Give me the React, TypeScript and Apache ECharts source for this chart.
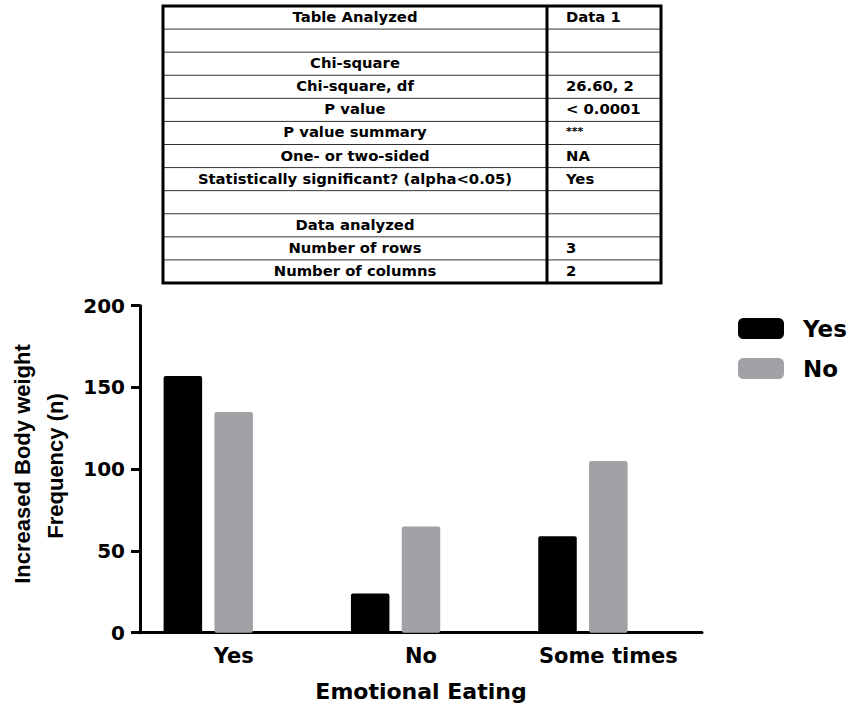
import React, { useEffect, useRef } from "react";
import * as echarts from "echarts";

const categories = ["Yes", "No", "Some times"];
const seriesYes = [157, 24, 59];
const seriesNo = [135, 65, 105];
const yTicks = { min: 0, max: 200, interval: 50 };

const tableLabels = [
  "Table Analyzed",
  "",
  "Chi-square",
  "Chi-square, df",
  "P value",
  "P value summary",
  "One- or two-sided",
  "Statistically significant? (alpha<0.05)",
  "",
  "Data analyzed",
  "Number of rows",
  "Number of columns",
];
const tableValues = ["Data 1", "", "", "26.60, 2", "< 0.0001", "***", "NA", "Yes", "", "", "3", "2"];

const HFONT = "DejaVu Sans";
const VFONT = "Liberation Sans";

export default function App() {
  const ref = useRef<HTMLDivElement>(null);
  useEffect(() => {
    if (!ref.current) return;
    const chart = echarts.init(ref.current, undefined, { renderer: "svg" });

    const tL = 163, tR = 661, tT = 6, tB = 283, tDiv = 547;
    const rowH = (tB - tT) / tableLabels.length;
    const graphics: any[] = [];
    for (let i = 1; i < tableLabels.length; i++) {
      const y = tT + rowH * i;
      graphics.push({
        type: "line",
        shape: { x1: tL, y1: y, x2: tR, y2: y },
        style: { stroke: "#333", lineWidth: 1 },
      });
    }
    graphics.push({
      type: "rect",
      shape: { x: tL, y: tT, width: tR - tL, height: tB - tT },
      style: { fill: "none", stroke: "#000", lineWidth: 3 },
    });
    graphics.push({
      type: "line",
      shape: { x1: tDiv, y1: tT, x2: tDiv, y2: tB },
      style: { stroke: "#000", lineWidth: 3 },
    });
    tableLabels.forEach((t, i) => {
      const cy = tT + rowH * (i + 0.5) - 1;
      if (t)
        graphics.push({
          type: "text",
          x: (tL + tDiv) / 2,
          y: cy,
          style: {
            text: t,
            fontFamily: HFONT,
            fontWeight: "bold",
            fontSize: 14.8,
            fill: "#000",
            align: "center",
            verticalAlign: "middle",
          },
        });
      const v = tableValues[i];
      if (v)
        graphics.push({
          type: "text",
          x: 566,
          y: cy,
          style: {
            text: v,
            fontFamily: HFONT,
            fontWeight: "bold",
            fontSize: v === "***" ? 11 : 14.8,
            fill: "#000",
            align: "left",
            verticalAlign: "middle",
          },
        });
    });
    // Y axis title (two lines, rotated)
    graphics.push({
      type: "text",
      x: 22.5,
      y: 464,
      rotation: Math.PI / 2,
      style: {
        text: "Increased Body weight",
        fontFamily: VFONT,
        fontWeight: "bold",
        fontSize: 22,
        fill: "#000",
        align: "center",
        verticalAlign: "middle",
      },
    });
    graphics.push({
      type: "text",
      x: 55.8,
      y: 466,
      rotation: Math.PI / 2,
      style: {
        text: "Frequency (n)",
        fontFamily: VFONT,
        fontWeight: "bold",
        fontSize: 22,
        fill: "#000",
        align: "center",
        verticalAlign: "middle",
      },
    });
    // X axis title
    graphics.push({
      type: "text",
      x: 421,
      y: 691,
      style: {
        text: "Emotional Eating",
        fontFamily: HFONT,
        fontWeight: "bold",
        fontSize: 22,
        fill: "#000",
        align: "center",
        verticalAlign: "middle",
      },
    });

    const barStyle = { borderRadius: 2 };
    chart.setOption({
      animation: false,
      grid: { left: 140, right: 156, top: 305.7, bottom: 73.3, containLabel: false },
      legend: {
        data: ["Yes", "No"],
        orient: "vertical",
        left: 738,
        top: 317,
        padding: 0,
        itemWidth: 46,
        itemHeight: 21,
        itemGap: 17,
        icon: "roundRect",
        textStyle: {
          fontFamily: HFONT,
          fontWeight: "bold",
          fontSize: 23,
          color: "#000",
          lineHeight: 21,
          padding: [0, 0, 0, 14],
        },
      },
      xAxis: {
        type: "category",
        data: categories,
        axisLine: { lineStyle: { color: "#000", width: 3 } },
        axisTick: { alignWithLabel: true, length: 8, lineStyle: { color: "#000", width: 3 } },
        axisLabel: {
          fontFamily: HFONT,
          fontWeight: "bold",
          fontSize: 21,
          color: "#000",
          margin: 13,
        },
      },
      yAxis: {
        type: "value",
        min: yTicks.min,
        max: yTicks.max,
        interval: yTicks.interval,
        splitLine: { show: false },
        axisLine: { show: true, lineStyle: { color: "#000", width: 3 } },
        axisTick: { show: true, length: 9, lineStyle: { color: "#000", width: 3 } },
        axisLabel: {
          fontFamily: HFONT,
          fontWeight: "bold",
          fontSize: 20,
          color: "#000",
          margin: 15,
        },
      },
      series: [
        {
          name: "Yes",
          type: "bar",
          data: seriesYes,
          barWidth: 38.5,
          barGap: "32%",
          itemStyle: { color: "#000000", ...barStyle },
        },
        {
          name: "No",
          type: "bar",
          data: seriesNo,
          barWidth: 38.5,
          barGap: "32%",
          itemStyle: { color: "#a2a1a6", ...barStyle },
        },
        {
          name: "spacer",
          type: "bar",
          data: [],
          barWidth: 38.5,
          barGap: "32%",
          itemStyle: { color: "transparent" },
        },
      ],
      graphic: graphics,
    });
    return () => chart.dispose();
  }, []);
  return (
    <div
      ref={ref}
      style={{ position: "fixed", left: 0, top: 0, width: 858, height: 706, background: "#fff" }}
    />
  );
}
